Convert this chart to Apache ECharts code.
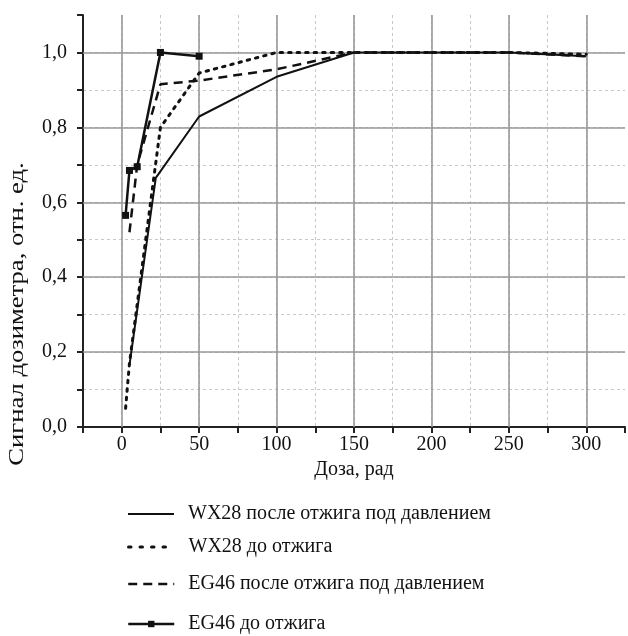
<!DOCTYPE html>
<html>
<head>
<meta charset="utf-8">
<script src="https://cdn.jsdelivr.net/npm/echarts@6/dist/echarts.min.js"></script>
<style>
  html, body { margin: 0; padding: 0; background: #fff; }
  #chart { width: 628px; height: 636px; }
</style>
</head>
<body>
<div id="chart"></div>
<script>
// WX28 после отжига под давлением
const doseWX28Ann = [5, 22, 50, 100, 150, 200, 250, 300];
const sigWX28Ann = [0.165, 0.665, 0.829, 0.935, 1.0, 1.0, 1.0, 0.99];
// WX28 до отжига
const doseWX28 = [2.5, 5, 25, 50, 100, 150, 200, 250, 300];
const sigWX28 = [0.05, 0.17, 0.80, 0.945, 1.0, 1.0, 1.0, 1.0, 0.995];
// EG46 после отжига под давлением
const doseEG46Ann = [5, 10, 25, 50, 100, 150, 200, 250, 300];
const sigEG46Ann = [0.52, 0.70, 0.915, 0.925, 0.955, 1.0, 1.0, 1.0, 0.99];
// EG46 до отжига
const doseEG46 = [2.5, 5, 10, 25, 50];
const sigEG46 = [0.565, 0.685, 0.695, 1.0, 0.99];

// сплошные линии сетки
const majorX = [0, 50, 100, 150, 200, 250, 300];
const majorY = [0.2, 0.4, 0.6, 0.8, 1.0];

const names = [
  'WX28 после отжига под давлением',
  'WX28 до отжига',
  'EG46 после отжига под давлением',
  'EG46 до отжига'
];
const legendTops = [499, 532, 569, 606];

const FONT = 'Liberation Serif';

function pairs(xs, ys) {
  return xs.map((x, i) => [x, ys[i]]);
}

const chart = echarts.init(document.getElementById('chart'), null, { renderer: 'canvas' });

// стиль линии в легенде
const legendLines = [
  { width: 2, type: 'solid' },
  { width: 3, type: [2.5, 9], cap: 'round' },
  { width: 2.5, type: [9, 6] },
  { width: 2.5, type: 'solid' }
];

// одна легенда на строку, т.к. шаг строк неравномерный
const legends = names.map((n, i) => ({
  data: [i < 3
    ? { name: n, itemStyle: { color: 'rgba(0,0,0,0)', borderWidth: 0 }, lineStyle: legendLines[i] }
    : { name: n, lineStyle: legendLines[i] }],
  left: 122,
  top: i < 3 ? legendTops[i] : legendTops[i] + 3,
  orient: 'vertical',
  itemWidth: 46,
  itemHeight: i < 3 ? 12 : 8,
  selectedMode: false,
  textStyle: { fontFamily: FONT, fontSize: 20, color: '#111', padding: [0, 0, 0, 9] }
}));

const option = {
  animation: false,
  backgroundColor: '#fff',
  legend: legends,
  grid: { left: 83, top: 15, width: 552, bottom: 209, containLabel: false },
  xAxis: {
    type: 'value',
    min: -25,
    max: 325,
    interval: 25,
    name: 'Доза, рад',
    nameLocation: 'middle',
    nameGap: 31,
    nameTextStyle: { fontFamily: FONT, fontSize: 20, color: '#111' },
    axisLine: { show: true, onZero: false, lineStyle: { color: '#222', width: 2 } },
    axisTick: { show: true, inside: false, length: 6, lineStyle: { color: '#222', width: 2 } },
    axisLabel: {
      fontFamily: FONT, fontSize: 20, color: '#111', margin: 8,
      formatter: v => (v >= 0 && v <= 300 && v % 50 === 0) ? String(v) : ''
    },
    splitLine: {
      show: true, showMinLine: false, showMaxLine: false,
      lineStyle: { color: '#c8c8c8', type: [3, 3], width: 1 }
    }
  },
  yAxis: {
    type: 'value',
    min: 0,
    max: 1.1,
    interval: 0.1,
    axisLine: { show: true, onZero: false, lineStyle: { color: '#222', width: 2 } },
    axisTick: { show: true, inside: false, length: 6, lineStyle: { color: '#222', width: 2 } },
    axisLabel: {
      fontFamily: FONT, fontSize: 20, color: '#111', margin: 16,
      formatter: v => {
        const k = Math.round(v * 10);
        return (k % 2 === 0 && k <= 10) ? v.toFixed(1).replace('.', ',') : '';
      }
    },
    splitLine: {
      show: true, showMinLine: false, showMaxLine: false,
      lineStyle: { color: '#c8c8c8', type: [3, 3], width: 1 }
    }
  },
  graphic: [{
    type: 'text',
    x: 18,
    y: 314,
    rotation: Math.PI / 2,
    scaleX: 1.33,
    style: {
      text: 'Сигнал дозиметра, отн. ед.',
      font: '20px "Liberation Serif"',
      fill: '#111',
      align: 'center',
      verticalAlign: 'middle'
    }
  }],
  series: [
    {
      // сплошная сетка
      type: 'line',
      data: [],
      silent: true,
      z: 1,
      markLine: {
        silent: true,
        symbol: 'none',
        label: { show: false },
        lineStyle: { color: '#999', width: 1.6, type: 'solid' },
        data: majorX.map(v => ({ xAxis: v })).concat(majorY.map(v => ({ yAxis: v })))
      }
    },
    {
      name: names[0],
      type: 'line',
      z: 5,
      symbol: 'none',
      data: pairs(doseWX28Ann, sigWX28Ann),
      lineStyle: { color: '#111', width: 2, type: 'solid' },
      itemStyle: { color: '#111' }
    },
    {
      name: names[1],
      type: 'line',
      z: 5,
      symbol: 'none',
      data: pairs(doseWX28, sigWX28),
      lineStyle: { color: '#111', width: 3, type: [2.5, 6], cap: 'round' },
      itemStyle: { color: '#111' }
    },
    {
      name: names[2],
      type: 'line',
      z: 5,
      symbol: 'none',
      data: pairs(doseEG46Ann, sigEG46Ann),
      lineStyle: { color: '#111', width: 2.5, type: [9, 6] },
      itemStyle: { color: '#111' }
    },
    {
      name: names[3],
      type: 'line',
      z: 6,
      symbol: 'rect',
      symbolSize: 7,
      showAllSymbol: true,
      data: pairs(doseEG46, sigEG46),
      lineStyle: { color: '#111', width: 2.5, type: 'solid' },
      itemStyle: { color: '#111' }
    }
  ]
};

chart.setOption(option);
</script>
</body>
</html>
